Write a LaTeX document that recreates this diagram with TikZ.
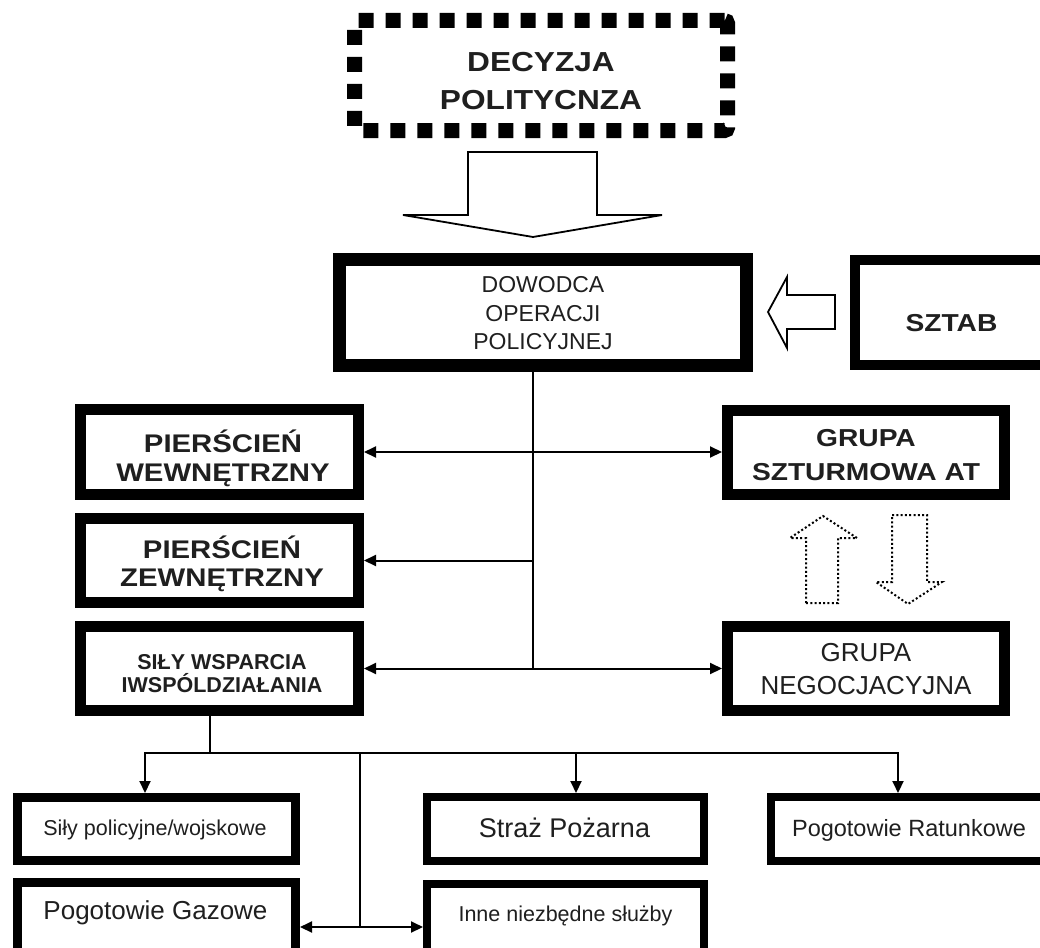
\documentclass[tikz,border=0pt]{standalone}
\usepackage{fontspec}
\setmainfont{Liberation Sans}
\newfontfamily\bwide{Liberation Sans}[FakeStretch=1.15]
\usetikzlibrary{arrows.meta}
\begin{document}
\begin{tikzpicture}[x=1pt,y=-1pt,
  box/.style={draw=black, inner sep=0pt, line join=miter},
  lbl/.style={align=center, inner sep=0pt, text=black!88},
  conn/.style={line width=2pt, line join=miter},
  arr/.style={conn, -{Triangle[length=12pt,width=11pt]}},
  arrs/.style={conn, {Triangle[length=12pt,width=11pt]}-{Triangle[length=12pt,width=11pt]}},
  hollow/.style={line width=1.8pt, line join=miter},
  dotarrow/.style={line width=2pt, dash pattern=on 2pt off 2.3pt},
]
\useasboundingbox (0,0) rectangle (1040,947);
\clip (0,0) rectangle (1040,947);
\fill[white] (0,0) rectangle (1040,947);

% ---------- boxes ----------
\node[box, line width=15pt, dash pattern=on 15pt off 12pt, rounded corners=3pt,
      minimum width=373pt, minimum height=110pt] (dec) at (541,75.5) {};
\node[box, line width=13pt, outer sep=6.5pt, minimum width=407pt, minimum height=106pt] (dow) at (543,312.5) {};
\node[box, line width=10pt, outer sep=5pt, minimum width=200pt, minimum height=105pt] (szb) at (955,312.5) {};
\node[box, line width=11pt, outer sep=5.5pt, minimum width=278pt, minimum height=85pt] (pw) at (219.5,452) {};
\node[box, line width=11pt, outer sep=5.5pt, minimum width=278pt, minimum height=84pt] (pz) at (219.5,560.5) {};
\node[box, line width=11pt, outer sep=5.5pt, minimum width=278pt, minimum height=84pt] (sw) at (219.5,668.5) {};
\node[box, line width=11pt, outer sep=5.5pt, minimum width=277pt, minimum height=84pt] (gs) at (866,452.5) {};
\node[box, line width=11pt, outer sep=5.5pt, minimum width=277pt, minimum height=84pt] (gn) at (866,668) {};
\node[box, line width=9pt, outer sep=4.5pt, minimum width=278pt, minimum height=63pt] (sp) at (156.5,829) {};
\node[box, line width=8pt, outer sep=4pt, minimum width=277pt, minimum height=64pt] (sz) at (565.5,829) {};
\node[box, line width=8pt, outer sep=4pt, minimum width=275pt, minimum height=64pt] (pr) at (908.5,829) {};
\node[box, line width=9pt, outer sep=4.5pt, minimum width=278pt, minimum height=75pt] (pg) at (156.5,920) {};
\node[box, line width=8pt, outer sep=4pt, minimum width=277pt, minimum height=75pt] (in) at (565.5,921.5) {};

% ---------- texts ----------
\node[lbl, font={\bwide\bfseries\fontsize{27.5}{38}\selectfont}] (dect) at (541,81.5) {DECYZJA\\POLITYCNZA};
\node[lbl, font={\fontsize{23}{28.5}\selectfont}] (dowt) at (543,313.5) {DOWODCA\\OPERACJI\\POLICYJNEJ};
\node[lbl, font={\bwide\bfseries\fontsize{24.5}{30}\selectfont}] (sztt) at (951.5,323) {SZTAB};
\node[lbl, font={\bwide\bfseries\fontsize{25.5}{29}\selectfont}] (pwt) at (223,458) {PIERŚCIEŃ\\WEWNĘTRZNY};
\node[lbl, font={\bwide\bfseries\fontsize{25.5}{28}\selectfont}] (pzt) at (222,563.5) {PIERŚCIEŃ\\ZEWNĘTRZNY};
\node[lbl, font={\bfseries\fontsize{21.5}{23}\selectfont}] (swt) at (222,673.5) {SIŁY WSPARCIA\\IWSPÓLDZIAŁANIA};
\node[lbl, font={\bwide\bfseries\fontsize{24.5}{34}\selectfont}] (gst) at (866,455) {GRUPA\\SZTURMOWA AT};
\node[lbl, font={\fontsize{26}{33}\selectfont}] (gnt) at (866,669) {GRUPA\\NEGOCJACYJNA};
\node[lbl, font={\fontsize{21.5}{24}\selectfont}] (spt) at (155,830) {Siły policyjne/wojskowe};
\node[lbl, font={\fontsize{27}{30}\selectfont}] (szt) at (564.5,828) {Straż Pożarna};
\node[lbl, font={\fontsize{23.5}{26}\selectfont}] (prt) at (909,830.5) {Pogotowie Ratunkowe};
\node[lbl, font={\fontsize{26}{29}\selectfont}] (pgt) at (155.5,913) {Pogotowie Gazowe};
\node[lbl, font={\fontsize{21.5}{24}\selectfont}] (intx) at (565.5,916) {Inne niezbędne służby};

% ---------- hollow arrows ----------
\draw[hollow] (468,152) -- (597,152) -- (597,215) -- (662,215) -- (533,237)
  -- (403,215) -- (468,215) -- cycle;
\draw[hollow] (835,295) -- (787,295) -- (787,277) -- (768,312) -- (787,348)
  -- (787,329) -- (835,329) -- cycle;
\draw[dotarrow] (806,603) -- (806,538) -- (790,538) -- (823,516) -- (857,538)
  -- (838,538) -- (838,603) -- cycle;
\draw[dotarrow] (892,515) -- (927,515) -- (927,582) -- (942,582) -- (908,604)
  -- (876,582) -- (892,582) -- cycle;

% ---------- connectors ----------
\coordinate (trunk) at (533,500);
\draw[conn] (dow.south -| trunk) -- (sw.east -| trunk);
\draw[arrs] (pw.east) -- (pw.east -| gs.west);
\draw[arr] (pz.east -| trunk) -- (pz.east);
\draw[arrs] (sw.east) -- (sw.east -| gn.west);

\coordinate (sj) at (210,753);
\coordinate (bL) at (145,753);
\coordinate (bS) at (576,753);
\coordinate (bR) at (898,753);
\coordinate (bG) at (360,753);
\coordinate (gj) at (360,927);
\draw[conn] (sw.south -| sj) -- (sj);
\draw[arr] (bS) -| (sp.north -| bL);
\draw[arr] (bS) -| (pr.north -| bR);
\draw[arr] (bS) -- (sz.north -| bS);
\draw[conn] (bG) -- (gj);
\draw[arrs] (pg.east |- gj) -- (in.west |- gj);
\end{tikzpicture}
\end{document}
